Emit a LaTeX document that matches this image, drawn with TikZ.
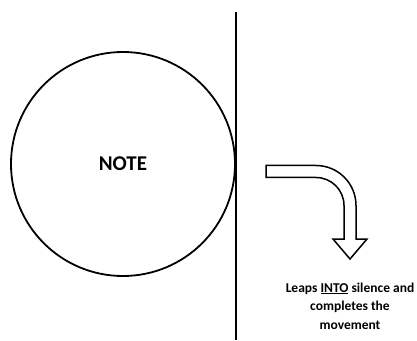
\documentclass[tikz,border=0pt]{standalone}
\usepackage{fontspec}
\setmainfont{Carlito}
\begin{document}
\begin{tikzpicture}[x=1pt,y=1pt,
  outline/.style={draw=black,line width=1.8pt},
  bendarrow/.style={draw=black,line width=1.5pt,line join=miter,fill=white},
  caption/.style={font=\bfseries\fontsize{13.5}{18.5}\selectfont,align=center,inner sep=0pt}]
  \useasboundingbox (0,0) rectangle (417,340);
  % the note
  \node[outline,circle,minimum size=224pt,inner sep=0pt,
        font=\bfseries\fontsize{21}{24}\selectfont] (note) at (123,176) {NOTE};
  % barline the note touches
  \coordinate (bartop) at (236,328);
  \coordinate (barbot) at (236,0);
  \draw[line width=1.8pt] (bartop) -- (barbot);
  % bent hollow arrow
  \draw[bendarrow] (266,174.5) -- (316,174.5)
      arc[start angle=90,end angle=0,radius=40]
      -- (356,101) -- (367,101) -- (350,81) -- (333,101) -- (344,101)
      -- (344,134.5) arc[start angle=0,end angle=90,radius=28]
      -- (266,162.5) -- cycle;
  % caption
  \node[caption] (lbl) at (350,34)
    {Leaps \underline{INTO} silence and\\completes the\\movement};
\end{tikzpicture}
\end{document}
